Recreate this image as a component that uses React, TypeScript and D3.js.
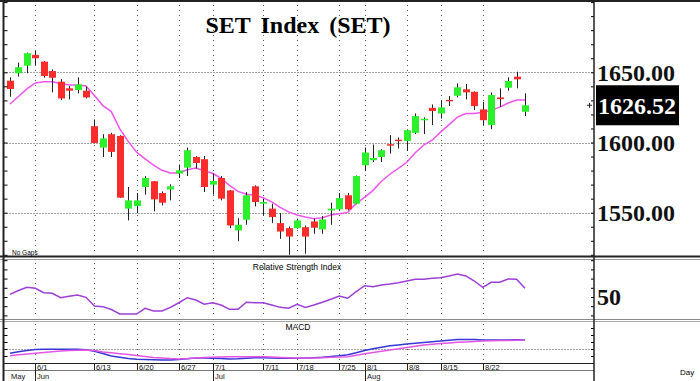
import React from 'react';
import * as d3 from 'd3';

// trading days shown on the chart
const dates = ['5/27','5/30','5/31','6/1','6/2','6/6','6/7','6/8','6/9','6/10','6/13','6/14','6/15','6/16','6/17','6/20','6/21','6/22','6/23','6/24','6/27','6/28','6/29','6/30','7/1','7/4','7/5','7/6','7/7','7/8','7/11','7/12','7/14','7/15','7/18','7/19','7/20','7/21','7/22','7/25','7/26','7/27','8/1','8/2','8/3','8/4','8/5','8/8','8/9','8/10','8/11','8/15','8/16','8/17','8/18','8/19','8/22','8/23','8/24','8/25','8/26','8/29'];

const dayTicks = ['6/1','6/13','6/20','6/27','7/1','7/11','7/18','7/25','8/1','8/8','8/15','8/22'];
const monthStarts = ['6/1','7/1','8/1'];
const monthLabels = ['Jun','Jul','Aug'];

const open = [1644.0,1649.3,1654.7,1662.4,1657.6,1650.9,1643.3,1638.6,1637.4,1636.9,1611.6,1596.4,1605.9,1604.7,1552.9,1554.7,1568.3,1572.4,1564.0,1566.6,1577.9,1582.1,1589.7,1588.1,1570.0,1574.7,1565.9,1537.4,1545.0,1568.8,1556.4,1552.9,1542.6,1539.0,1539.0,1539.7,1543.8,1538.1,1551.6,1552.4,1562.4,1556.4,1583.8,1587.4,1589.7,1598.8,1602.0,1601.1,1606.9,1616.0,1624.7,1620.7,1630.4,1633.3,1637.9,1636.1,1623.6,1612.4,1632.1,1639.0,1646.9,1621.9];
const high = [1646.4,1656.9,1664.0,1665.2,1658.0,1652.1,1645.2,1640.2,1646.4,1639.7,1616.4,1605.9,1606.9,1605.2,1568.3,1564.0,1576.1,1572.6,1565.2,1570.2,1584.3,1596.4,1590.2,1590.4,1577.9,1576.1,1566.2,1546.1,1564.7,1569.5,1560.0,1556.4,1549.7,1540.2,1545.7,1540.9,1545.7,1547.6,1557.1,1564.0,1564.0,1576.5,1596.4,1598.6,1595.2,1605.2,1603.6,1609.3,1620.7,1617.9,1627.1,1629.7,1633.1,1642.1,1641.6,1636.4,1629.0,1635.7,1638.6,1646.4,1650.4,1635.0];
const low = [1632.6,1646.9,1649.3,1655.2,1646.1,1635.7,1630.2,1630.7,1635.0,1631.4,1599.4,1589.7,1589.7,1560.5,1544.5,1549.7,1562.9,1550.9,1555.2,1558.8,1574.7,1576.1,1581.4,1564.7,1562.9,1558.8,1539.0,1529.7,1541.4,1554.5,1548.0,1542.6,1531.4,1520.0,1538.6,1520.8,1535.0,1535.0,1541.4,1551.6,1551.6,1556.0,1579.7,1586.1,1586.1,1592.1,1595.7,1594.0,1606.0,1606.0,1612.4,1617.1,1626.0,1632.1,1630.7,1623.1,1612.4,1609.5,1625.4,1636.9,1638.6,1618.8];
const close = [1638.1,1653.6,1663.6,1660.0,1647.4,1646.1,1631.4,1636.9,1641.4,1632.1,1599.7,1602.9,1593.3,1560.7,1558.8,1558.8,1574.7,1559.5,1557.1,1568.8,1580.2,1594.5,1585.4,1568.3,1572.6,1560.0,1540.9,1541.4,1562.4,1557.6,1557.6,1546.9,1536.6,1533.0,1544.5,1533.0,1539.3,1545.2,1552.9,1560.4,1552.4,1576.1,1592.9,1589.0,1594.5,1598.1,1601.1,1608.8,1618.8,1616.9,1622.4,1625.0,1629.9,1639.3,1635.7,1625.9,1615.9,1633.8,1630.9,1643.8,1645.0,1626.52];

// moving average line
const ma = [1627.4,1632.8,1638.2,1642.4,1643.3,1643.2,1642.1,1640.9,1640.9,1640.2,1633.4,1626.3,1622.0,1609.7,1600.8,1593.1,1588.3,1583.9,1580.2,1578.3,1578.3,1580.6,1581.8,1579.9,1578.1,1574.5,1569.5,1565.2,1563.1,1562.4,1560.6,1557.7,1553.8,1550.6,1548.4,1546.9,1545.7,1546.4,1548.4,1549.3,1550.2,1556.6,1560.9,1565.9,1572.4,1577.4,1581.6,1585.9,1592.7,1598.1,1601.6,1607.4,1612.7,1618.1,1620.6,1620.7,1621.6,1622.9,1625.2,1628.1,1630.2,1630.2];

const rsi = [52.3,55.7,58.4,57.6,53.7,53.2,49.4,50.6,51.7,49.7,42.2,41.6,39.1,35.2,35.2,35.2,40.2,37.8,37.8,41.0,45.0,49.4,47.4,43.7,45.0,43.0,39.3,39.3,45.4,45.0,45.0,43.0,41.0,40.2,43.7,41.0,43.0,45.4,48.0,50.9,48.9,54.6,59.8,59.0,60.4,61.3,62.4,63.9,65.4,65.4,66.3,66.8,68.3,70.0,68.3,63.9,58.4,62.8,62.8,65.7,65.4,57.6];

const macd = [-4.3,-2.8,-1.5,-0.5,-0.3,-0.3,-0.3,-0.3,-0.3,-0.8,-2.2,-4.5,-6.9,-8.2,-9.4,-10.3,-10.6,-10.8,-11.0,-10.9,-10.4,-9.7,-9.0,-8.9,-9.3,-9.6,-9.9,-9.8,-9.2,-8.7,-8.7,-8.9,-9.2,-9.3,-9.3,-9.1,-8.7,-8.3,-7.5,-6.8,-5.8,-3.8,-1.6,0.2,1.7,3.3,4.1,5.0,5.8,6.5,7.2,8.0,8.7,9.5,9.6,9.4,9.0,9.0,9.0,9.0,9.2,9.0];
const signal = [-6.7,-5.8,-5.0,-4.2,-3.5,-2.8,-2.1,-1.6,-1.3,-1.0,-1.6,-2.9,-3.7,-4.7,-5.6,-6.5,-7.4,-8.5,-9.1,-9.6,-9.9,-9.6,-8.9,-8.6,-8.3,-8.0,-7.8,-7.7,-7.7,-7.7,-7.8,-8.1,-8.4,-8.7,-8.9,-9.0,-8.9,-8.7,-8.3,-8.1,-7.7,-6.2,-4.7,-3.4,-2.3,-1.0,0.2,1.5,2.8,4.0,4.7,5.4,6.1,6.7,7.1,7.5,8.0,8.2,8.4,8.6,8.8,9.0];

const priceLabels = [1650, 1600, 1550];

const serif = "'Liberation Serif', 'Times New Roman', serif";
const sans = "'Liberation Sans', Arial, sans-serif";

class App extends React.Component {
    ref = React.createRef<SVGSVGElement>();

    componentDidMount() {
        const svg = d3.select(this.ref.current);
        svg.selectAll('*').remove();

        const left = 3.5, right = 594;
        const main = {top: 2, bottom: 256};
        const rsiP = {top: 260, bottom: 319};
        const macdP = {top: 321, bottom: 363};

        const x = d3.scalePoint<string>().domain(dates).range([10, 525]);
        const y = d3.scaleLinear().domain([1550, 1650]).range([212.7, 72.3]);
        const yRsi = d3.scaleLinear().domain([0, 100]).range([354.5, 239.5]);
        const yMacd = d3.scaleLinear().domain([-10, 10]).range([359, 339]);

        svg.append('rect').attr('width', 700).attr('height', 381).attr('fill', '#fff');

        // grid
        const grid = svg.append('g');
        grid.selectAll('.hg').data(priceLabels).enter().append('line')
            .attr('x1', left).attr('x2', right)
            .attr('y1', d => Math.round(y(d)) + 0.5).attr('y2', d => Math.round(y(d)) + 0.5)
            .attr('stroke', '#444').attr('stroke-dasharray', '1,2');
        [main, rsiP, macdP].forEach(p => {
            grid.append('g').selectAll('line').data(dayTicks).enter().append('line')
                .attr('x1', d => Math.round(x(d)!) + 0.5).attr('x2', d => Math.round(x(d)!) + 0.5)
                .attr('y1', p.top + 3).attr('y2', p.bottom - 1)
                .attr('stroke', '#555').attr('stroke-dasharray', '1,4');
        });
        grid.append('line').attr('x1', left).attr('x2', right)
            .attr('y1', Math.round(yMacd(0)) + 0.5).attr('y2', Math.round(yMacd(0)) + 0.5)
            .attr('stroke', '#444').attr('stroke-dasharray', '1,2');

        // moving average
        svg.append('path').datum(ma)
            .attr('fill', 'none').attr('stroke', '#ee55ee').attr('stroke-width', 1.5)
            .attr('d', d3.line<number>().x((d, i) => x(dates[i])!).y(d => y(d)));

        // candles
        const bw = 7;
        const c = svg.append('g').selectAll('g').data(dates).enter().append('g');
        c.append('line')
            .attr('x1', d => Math.round(x(d)!) + 0.5).attr('x2', d => Math.round(x(d)!) + 0.5)
            .attr('y1', (d, i) => y(high[i])).attr('y2', (d, i) => y(low[i]))
            .attr('stroke', '#222').attr('stroke-width', 1);
        c.append('rect')
            .attr('x', d => Math.round(x(d)!) + 0.5 - bw / 2)
            .attr('width', bw)
            .attr('y', (d, i) => y(Math.max(open[i], close[i])))
            .attr('height', (d, i) => Math.max(1.5, Math.abs(y(open[i]) - y(close[i]))))
            .attr('fill', (d, i) => close[i] >= open[i] ? '#2cf02c' : '#fa2c2c');

        // RSI
        svg.append('path').datum(rsi)
            .attr('fill', 'none').attr('stroke', '#9b3fd8').attr('stroke-width', 1.5)
            .attr('d', d3.line<number>().x((d, i) => x(dates[i])!).y(d => yRsi(d)));

        // MACD
        svg.append('path').datum(macd)
            .attr('fill', 'none').attr('stroke', '#3636d6').attr('stroke-width', 1.5)
            .attr('d', d3.line<number>().x((d, i) => x(dates[i])!).y(d => yMacd(d)));
        svg.append('path').datum(signal)
            .attr('fill', 'none').attr('stroke', '#e455e4').attr('stroke-width', 1.5)
            .attr('d', d3.line<number>().x((d, i) => x(dates[i])!).y(d => yMacd(d)));

        // axis ticks, both sides
        const ticks = (vals: number[], sc: d3.ScaleLinear<number, number>) => {
            svg.append('g').attr('transform', `translate(${right},0)`)
                .call(d3.axisLeft(sc).tickValues(vals).tickSize(3).tickFormat(() => ''))
                .call(g => g.select('.domain').remove());
            svg.append('g').attr('transform', `translate(${left},0)`)
                .call(d3.axisRight(sc).tickValues(vals).tickSize(4).tickFormat(() => ''))
                .call(g => g.select('.domain').remove());
        };
        ticks(d3.range(1520, 1701, 10), y);
        ticks(d3.range(34, 90, 8), yRsi);
        ticks(d3.range(-7, 25, 7), yMacd);

        // frame
        const ln = (x1: number, y1: number, x2: number, y2: number, col: string, w: number) =>
            svg.append('line').attr('x1', x1).attr('y1', y1).attr('x2', x2).attr('y2', y2)
                .attr('stroke', col).attr('stroke-width', w);
        ln(0, 1, 700, 1, '#222', 2);
        ln(0, 256.5, 700, 256.5, '#222', 2);
        ln(0, 259.5, 700, 259.5, '#999', 1);
        ln(0, 319.5, 700, 319.5, '#888', 1);
        ln(0, 321.5, 700, 321.5, '#aaa', 1);
        ln(left, 363.5, right, 363.5, '#222', 1);
        ln(left, 370.5, right, 370.5, '#777', 1);
        ln(left, 0, left, 381, '#222', 2);
        ln(right, 0, right, 381, '#222', 1.5);

        // date axis
        const ax = svg.append('g').attr('font-family', sans).attr('font-size', 7.5).attr('fill', '#111');
        ax.selectAll('.dt').data(dayTicks).enter().append('line')
            .attr('x1', d => Math.round(x(d)!) + 0.5).attr('x2', d => Math.round(x(d)!) + 0.5)
            .attr('y1', 363).attr('y2', d => monthStarts.includes(d) ? 381 : 370)
            .attr('stroke', '#222');
        ax.selectAll('.dl').data(dayTicks).enter().append('text')
            .attr('x', d => Math.round(x(d)!) + 2).attr('y', 369.5).text(d => d);
        ax.selectAll('.ml').data(monthLabels).enter().append('text')
            .attr('x', (d, i) => Math.round(x(monthStarts[i])!) + 2).attr('y', 379).text(d => d);
        ax.append('text').attr('x', 11).attr('y', 379).text('May');

        // titles and labels
        svg.append('text').attr('x', 298).attr('y', 33).attr('text-anchor', 'middle')
            .attr('font-family', serif).attr('font-weight', 'bold').attr('font-size', 24)
            .attr('word-spacing', 4).text('SET Index (SET)');
        svg.append('text').attr('x', 12).attr('y', 255).attr('font-family', sans)
            .attr('font-size', 6.5).text('No Gaps');
        svg.append('text').attr('x', 297).attr('y', 270).attr('text-anchor', 'middle')
            .attr('font-family', sans).attr('font-size', 8.5).text('Relative Strength Index');
        svg.append('text').attr('x', 298).attr('y', 330).attr('text-anchor', 'middle')
            .attr('font-family', sans).attr('font-size', 8.5).text('MACD');
        svg.append('text').attr('x', 680).attr('y', 375).attr('font-family', sans)
            .attr('font-size', 8).text('Day');

        const lab = svg.append('g').attr('font-family', serif).attr('font-weight', 'bold').attr('font-size', 24);
        lab.selectAll('text').data(priceLabels).enter().append('text')
            .attr('x', 597).attr('y', d => y(d) + 8.5).attr('fill', '#111').text(d => d.toFixed(2));

        const last = close[close.length - 1];
        lab.append('rect').attr('x', 596).attr('y', y(last) - 20).attr('width', 83).attr('height', 40).attr('fill', '#000');
        lab.append('text').attr('x', 598).attr('y', y(last) + 8.5).attr('fill', '#fff').text(last.toFixed(2));
        lab.append('text').attr('x', 597).attr('y', yRsi(50) + 7.5).attr('fill', '#111').text('50');

        // last price marker
        ln(587, y(last), 592, y(last), '#222', 1);
        ln(589.5, y(last) - 2.5, 589.5, y(last) + 2.5, '#222', 1);
    }

    render() {
        return (
            <svg ref={this.ref} width={700} height={381}
                 style={{position: 'absolute', left: 0, top: 0, display: 'block'}} />
        );
    }
}

export default App;
